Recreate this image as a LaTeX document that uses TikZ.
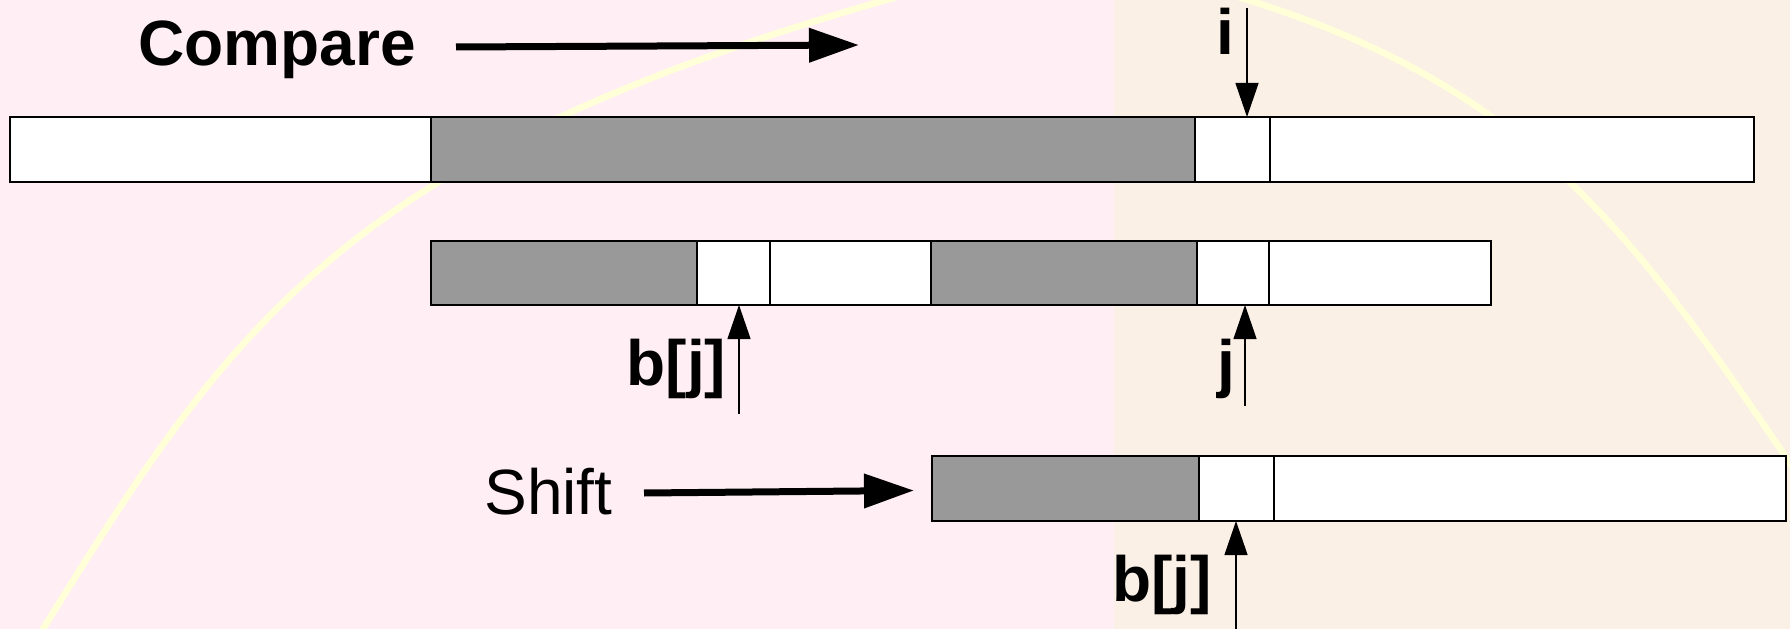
\documentclass[tikz,border=0pt]{standalone}
\usepackage{fontspec}
\setmainfont{Liberation Sans}
\usetikzlibrary{arrows.meta}
\definecolor{pinkbg}{RGB}{255,239,244}
\definecolor{beigebg}{RGB}{250,240,230}
\definecolor{arcyellow}{RGB}{255,255,216}
\definecolor{cellgray}{RGB}{153,153,153}
\begin{document}
\begin{tikzpicture}[x=1bp,y=-1bp,
  cell/.style={draw=black, line width=1.5bp, fill=white, inner sep=0pt, outer sep=0pt,
               minimum height=65bp, anchor=north west},
  graycell/.style={cell, fill=cellgray},
  lbl/.style={font=\fontsize{64bp}{70bp}\selectfont\bfseries, inner sep=0pt, anchor=base},
  plainlbl/.style={font=\fontsize{64bp}{70bp}\selectfont, inner sep=0pt, anchor=base},
  bigarrow/.style={line width=7bp, -{Triangle[length=50bp,width=33bp]}},
  thinarrow/.style={line width=1.2bp, -{Triangle[length=34bp,width=23bp]}}
]
\useasboundingbox (0,0) rectangle (1790,629);

% two-tone background
\fill[pinkbg] (0,0) rectangle (1114,629);
\fill[beigebg] (1114,0) rectangle (1790,629);

% pale yellow arc behind the strings
\begin{scope}
  \clip (0,0) rectangle (1790,629);
  \draw[arcyellow, line width=6.5bp]
    (20,666) -- (43,629)
    .. controls (229.7,327.9) and (340.7,155.8) .. (886,0)
    .. controls (1026,-40) and (1120,-40) .. (1248,0)
    .. controls (1520.7,85.2) and (1626.3,222.5) .. (1783,453)
    -- (1822,510);
\end{scope}

% text string
\node[cell,     minimum width=421bp] (r1a) at (10,117) {};
\node[graycell, minimum width=764bp] (r1b) at (431,117) {};
\node[cell,     minimum width=75bp]  (r1c) at (1195,117) {};
\node[cell,     minimum width=484bp] (r1d) at (1270,117) {};

% pattern, first alignment
\node[graycell, minimum width=266bp, minimum height=64bp] (r2a) at (431,241) {};
\node[cell,     minimum width=73bp,  minimum height=64bp] (r2b) at (697,241) {};
\node[cell,     minimum width=161bp, minimum height=64bp] (r2c) at (770,241) {};
\node[graycell, minimum width=266bp, minimum height=64bp] (r2d) at (931,241) {};
\node[cell,     minimum width=72bp,  minimum height=64bp] (r2e) at (1197,241) {};
\node[cell,     minimum width=222bp, minimum height=64bp] (r2f) at (1269,241) {};

% pattern after the shift
\node[graycell, minimum width=267bp] (r3a) at (932,456) {};
\node[cell,     minimum width=75bp]  (r3b) at (1199,456) {};
\node[cell,     minimum width=512bp] (r3c) at (1274,456) {};

% labels
\node[lbl] (tcompare) at (277,66) {Compare};
\node[lbl] (ti) at (1225.5,55) {i};
\node[lbl] (tbj1) at (676.5,385) {b[j]};
\node[lbl] (tj) at (1226,385) {j};
\node[plainlbl] (tshift) at (548.5,514) {Shift};
\node[lbl] (tbj2) at (1162,601) {b[j]};

% arrow end points
\coordinate (cmpfrom) at (456,47);
\coordinate (cmpto) at (859,45);
\coordinate (shfrom) at (644,493);
\coordinate (shto) at (914,490.5);
\coordinate (itail) at (1247,8);
\coordinate (bj1tail) at (739,414);
\coordinate (jtail) at (1245,406);
\coordinate (bj2tail) at (1236,632);

% arrows
\draw[bigarrow] (cmpfrom) -- (cmpto);
\draw[bigarrow] (shfrom) -- (shto);
\draw[thinarrow] (itail) -- (itail |- r1c.north);
\draw[thinarrow] (bj1tail) -- (bj1tail |- r2b.south);
\draw[thinarrow] (jtail) -- (jtail |- r2e.south);
\draw[thinarrow] (bj2tail) -- (bj2tail |- r3b.south);
\end{tikzpicture}
\end{document}
